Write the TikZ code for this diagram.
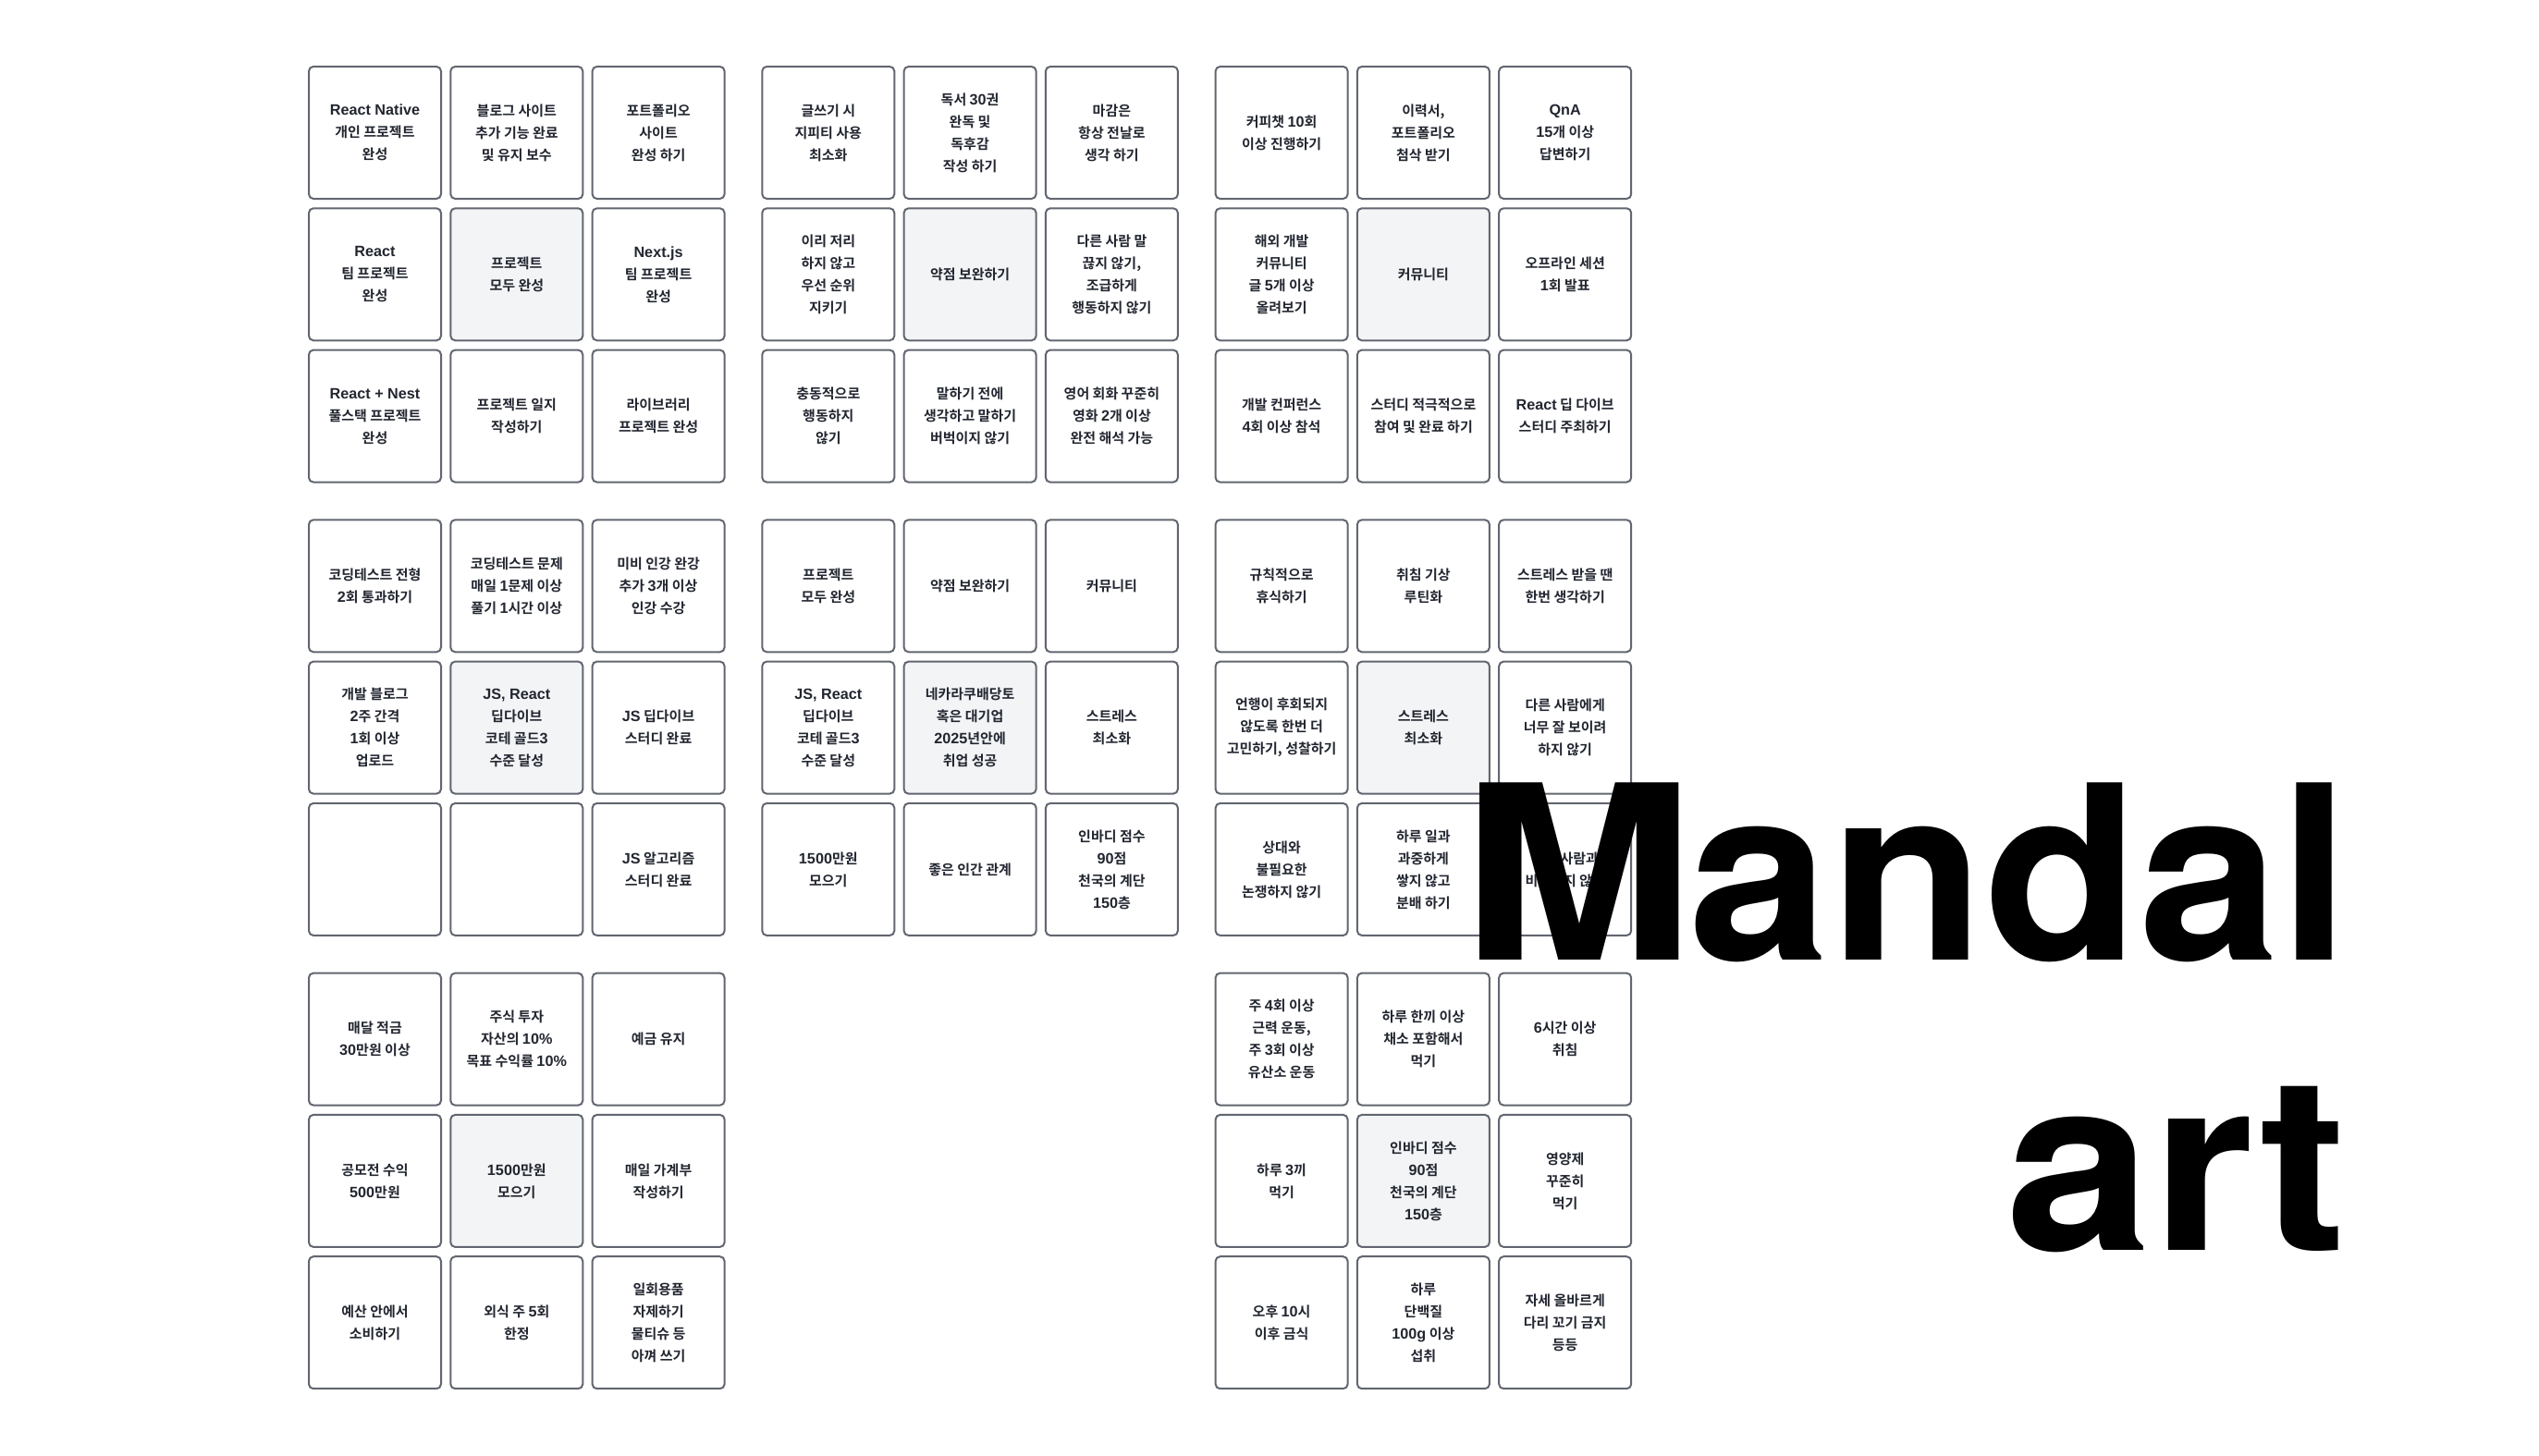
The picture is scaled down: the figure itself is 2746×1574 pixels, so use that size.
\documentclass[tikz,border=0pt]{standalone}
\usepackage{fontspec}
\newfontfamily\krfont{Noto Sans CJK KR}[BoldFont={* Bold}]
\newfontfamily\latfont{Liberation Sans}[Scale=1.08]
\newfontfamily\bigfont{TeX Gyre Heros}
\definecolor{celltext}{RGB}{34,38,48}
\definecolor{cellline}{RGB}{98,102,112}
\definecolor{cellfill}{RGB}{243,244,246}
\newcommand\lt[1]{{\latfont #1}}
\newcommand\cellfont{\krfont\bfseries\fontsize{15}{24}\selectfont}
\tikzset{
  cellbox/.style={draw=cellline, line width=2pt, rounded corners=5pt,
    minimum width=143pt, minimum height=143pt, inner sep=0pt,
    align=center, font=\cellfont, text=celltext, fill=white},
  centerbox/.style={cellbox, fill=cellfill},
  bigtext/.style={font=\bigfont\bfseries\fontsize{263}{263}\selectfont, text=black, inner sep=0pt}
}
% #1 block row, #2 block col, #3 row, #4 col, #5 text
\newcommand\mc[5]{\node[cellbox] (c#1#2#3#4) at ({405.5+490.3*#2+153.3*#4},{143.5+490.3*#1+153.3*#3}) {#5};}
\newcommand\mcc[5]{\node[centerbox] (c#1#2#3#4) at ({405.5+490.3*#2+153.3*#4},{143.5+490.3*#1+153.3*#3}) {#5};}
\begin{document}
\begin{tikzpicture}[x=1pt,y=-1pt]
\useasboundingbox[fill=white] (0,0) rectangle (2746,1574);
% block 0,0
\mc{0}{0}{0}{0}{\lt{React Native}\\개인 프로젝트\\완성}
\mc{0}{0}{0}{1}{블로그 사이트\\추가 기능 완료\\및 유지 보수}
\mc{0}{0}{0}{2}{포트폴리오\\사이트\\완성 하기}
\mc{0}{0}{1}{0}{\lt{React}\\팀 프로젝트\\완성}
\mcc{0}{0}{1}{1}{프로젝트\\모두 완성}
\mc{0}{0}{1}{2}{\lt{Next.js}\\팀 프로젝트\\완성}
\mc{0}{0}{2}{0}{\lt{React + Nest}\\풀스택 프로젝트\\완성}
\mc{0}{0}{2}{1}{프로젝트 일지\\작성하기}
\mc{0}{0}{2}{2}{라이브러리\\프로젝트 완성}
% block 0,1
\mc{0}{1}{0}{0}{글쓰기 시\\지피티 사용\\최소화}
\mc{0}{1}{0}{1}{독서 \lt{30}권\\완독 및\\독후감\\작성 하기}
\mc{0}{1}{0}{2}{마감은\\항상 전날로\\생각 하기}
\mc{0}{1}{1}{0}{이리 저리\\하지 않고\\우선 순위\\지키기}
\mcc{0}{1}{1}{1}{약점 보완하기}
\mc{0}{1}{1}{2}{다른 사람 말\\끊지 않기,\\조급하게\\행동하지 않기}
\mc{0}{1}{2}{0}{충동적으로\\행동하지\\않기}
\mc{0}{1}{2}{1}{말하기 전에\\생각하고 말하기\\버벅이지 않기}
\mc{0}{1}{2}{2}{영어 회화 꾸준히\\영화 \lt{2}개 이상\\완전 해석 가능}
% block 0,2
\mc{0}{2}{0}{0}{커피챗 \lt{10}회\\이상 진행하기}
\mc{0}{2}{0}{1}{이력서,\\포트폴리오\\첨삭 받기}
\mc{0}{2}{0}{2}{\lt{QnA}\\\lt{15}개 이상\\답변하기}
\mc{0}{2}{1}{0}{해외 개발\\커뮤니티\\글 \lt{5}개 이상\\올려보기}
\mcc{0}{2}{1}{1}{커뮤니티}
\mc{0}{2}{1}{2}{오프라인 세션\\\lt{1}회 발표}
\mc{0}{2}{2}{0}{개발 컨퍼런스\\\lt{4}회 이상 참석}
\mc{0}{2}{2}{1}{스터디 적극적으로\\참여 및 완료 하기}
\mc{0}{2}{2}{2}{\lt{React} 딥 다이브\\스터디 주최하기}
% block 1,0
\mc{1}{0}{0}{0}{코딩테스트 전형\\\lt{2}회 통과하기}
\mc{1}{0}{0}{1}{코딩테스트 문제\\매일 \lt{1}문제 이상\\풀기 \lt{1}시간 이상}
\mc{1}{0}{0}{2}{미비 인강 완강\\추가 \lt{3}개 이상\\인강 수강}
\mc{1}{0}{1}{0}{개발 블로그\\\lt{2}주 간격\\\lt{1}회 이상\\업로드}
\mcc{1}{0}{1}{1}{\lt{JS, React}\\딥다이브\\코테 골드\lt{3}\\수준 달성}
\mc{1}{0}{1}{2}{\lt{JS} 딥다이브\\스터디 완료}
\mc{1}{0}{2}{0}{}
\mc{1}{0}{2}{1}{}
\mc{1}{0}{2}{2}{\lt{JS} 알고리즘\\스터디 완료}
% block 1,1
\mc{1}{1}{0}{0}{프로젝트\\모두 완성}
\mc{1}{1}{0}{1}{약점 보완하기}
\mc{1}{1}{0}{2}{커뮤니티}
\mc{1}{1}{1}{0}{\lt{JS, React}\\딥다이브\\코테 골드\lt{3}\\수준 달성}
\mcc{1}{1}{1}{1}{네카라쿠배당토\\혹은 대기업\\\lt{2025}년안에\\취업 성공}
\mc{1}{1}{1}{2}{스트레스\\최소화}
\mc{1}{1}{2}{0}{\lt{1500}만원\\모으기}
\mc{1}{1}{2}{1}{좋은 인간 관계}
\mc{1}{1}{2}{2}{인바디 점수\\\lt{90}점\\천국의 계단\\\lt{150}층}
% block 1,2
\mc{1}{2}{0}{0}{규칙적으로\\휴식하기}
\mc{1}{2}{0}{1}{취침 기상\\루틴화}
\mc{1}{2}{0}{2}{스트레스 받을 땐\\한번 생각하기}
\mc{1}{2}{1}{0}{언행이 후회되지\\않도록 한번 더\\고민하기, 성찰하기}
\mcc{1}{2}{1}{1}{스트레스\\최소화}
\mc{1}{2}{1}{2}{다른 사람에게\\너무 잘 보이려\\하지 않기}
\mc{1}{2}{2}{0}{상대와\\불필요한\\논쟁하지 않기}
\mc{1}{2}{2}{1}{하루 일과\\과중하게\\쌓지 않고\\분배 하기}
\mc{1}{2}{2}{2}{다른 사람과\\비교하지 않기}
% block 2,0
\mc{2}{0}{0}{0}{매달 적금\\\lt{30}만원 이상}
\mc{2}{0}{0}{1}{주식 투자\\자산의 \lt{10\%}\\목표 수익률 \lt{10\%}}
\mc{2}{0}{0}{2}{예금 유지}
\mc{2}{0}{1}{0}{공모전 수익\\\lt{500}만원}
\mcc{2}{0}{1}{1}{\lt{1500}만원\\모으기}
\mc{2}{0}{1}{2}{매일 가계부\\작성하기}
\mc{2}{0}{2}{0}{예산 안에서\\소비하기}
\mc{2}{0}{2}{1}{외식 주 \lt{5}회\\한정}
\mc{2}{0}{2}{2}{일회용품\\자제하기\\물티슈 등\\아껴 쓰기}
% block 2,2
\mc{2}{2}{0}{0}{주 \lt{4}회 이상\\근력 운동,\\주 \lt{3}회 이상\\유산소 운동}
\mc{2}{2}{0}{1}{하루 한끼 이상\\채소 포함해서\\먹기}
\mc{2}{2}{0}{2}{\lt{6}시간 이상\\취침}
\mc{2}{2}{1}{0}{하루 \lt{3}끼\\먹기}
\mcc{2}{2}{1}{1}{인바디 점수\\\lt{90}점\\천국의 계단\\\lt{150}층}
\mc{2}{2}{1}{2}{영양제\\꾸준히\\먹기}
\mc{2}{2}{2}{0}{오후 \lt{10}시\\이후 금식}
\mc{2}{2}{2}{1}{하루\\단백질\\\lt{100g} 이상\\섭취}
\mc{2}{2}{2}{2}{자세 올바르게\\다리 꼬기 금지\\등등}
% title
\node[bigtext, anchor=base west] (mandal) at (1580,1038) {\scalebox{1.153}[1]{M}\kern-6pt\scalebox{1.041}[1]{andal}};
\node[bigtext, anchor=base west] (art) at (2169,1352) {\scalebox{1.08}[1]{art}};
\end{tikzpicture}
\end{document}
